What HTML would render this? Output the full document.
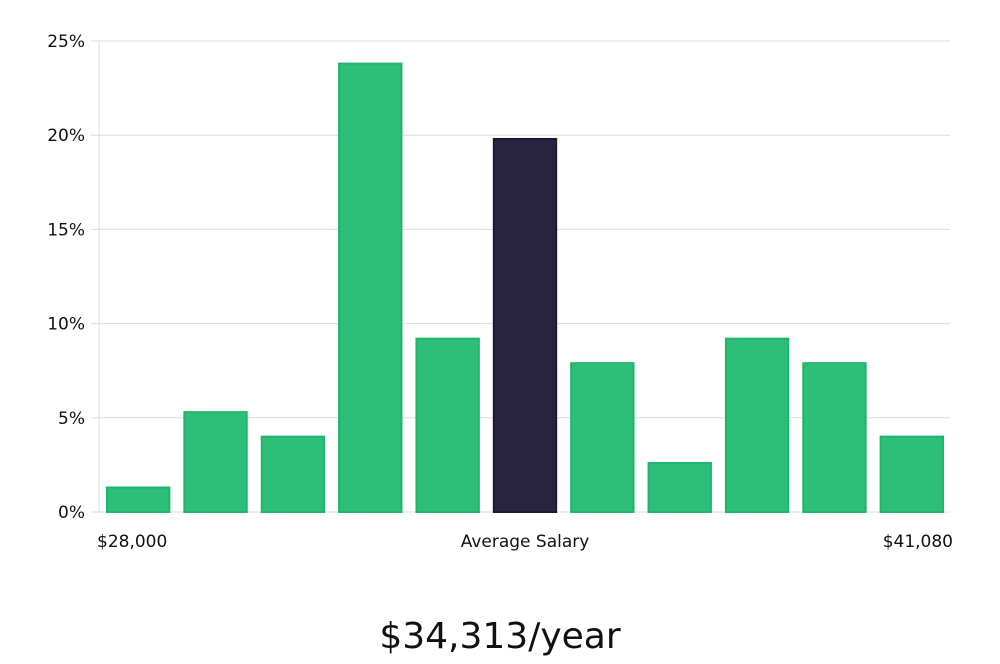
<!DOCTYPE html>
<html><head><meta charset="utf-8"><style>
body{margin:0;background:#fff;width:1000px;height:660px;overflow:hidden;font-family:"DejaVu Sans","Liberation Sans",sans-serif}
svg text{font-family:"DejaVu Sans","Liberation Sans",sans-serif;fill:#111}
</style></head><body>
<svg id="chart" width="1000" height="660" viewBox="0 0 1000 660"></svg>
<script>
const categories=["b1","b2","b3","b4","b5","b6","b7","b8","b9","b10","b11"];
const values=[1.3,5.3,4.0,23.8,9.2,19.8,7.9,2.6,9.2,7.9,4.0];
const highlightIndex=5;
const yTicks=[0,5,10,15,20,25];
const xLabels=["$28,000","Average Salary","$41,080"];
const title="$34,313/year";
const svg=document.getElementById('chart');
const NS="http://www.w3.org/2000/svg";
const x0=99,x1=950,yb=512,yt=41,ymax=25;
const y=v=>yb-(v/ymax)*(yb-yt);
const slot=(x1-x0)/categories.length;
const xs=i=>x0+i*slot;
function mk(t,a){const e=document.createElementNS(NS,t);for(const k in a)e.setAttribute(k,a[k]);svg.appendChild(e);return e;}
yTicks.forEach(t=>{
const g=mk('line',{x1:x0-8,x2:x1,y1:y(t),y2:y(t),stroke:'#dcdcdc','stroke-width':1});


const tx=mk('text',{x:x0-14,y:y(t)+6,'text-anchor':'end','font-size':17});
tx.textContent=t+'%';


});
const ax=mk('line',{x1:x0,x2:x0,y1:yt,y2:yb,stroke:'#dcdcdc','stroke-width':1});


values.forEach((v,i)=>{
const hl=i===highlightIndex;
const r=mk('rect',{x:xs(i)+8,y:y(v),width:slot-15,height:yb-y(v),fill:hl?'#28243f':'#2bbf77',stroke:hl?'#1c1838':'#22b36c','stroke-width':2});


});
const lx=[[97,'start'],[525,'middle'],[953,'end']];
xLabels.forEach((l,i)=>{
const t=mk('text',{x:lx[i][0],y:547,'text-anchor':lx[i][1],'font-size':17});
t.textContent=l;


});
const tt=mk('text',{x:500,y:648,'text-anchor':'middle','font-size':36});
tt.textContent=title;


</script>
</body></html>
